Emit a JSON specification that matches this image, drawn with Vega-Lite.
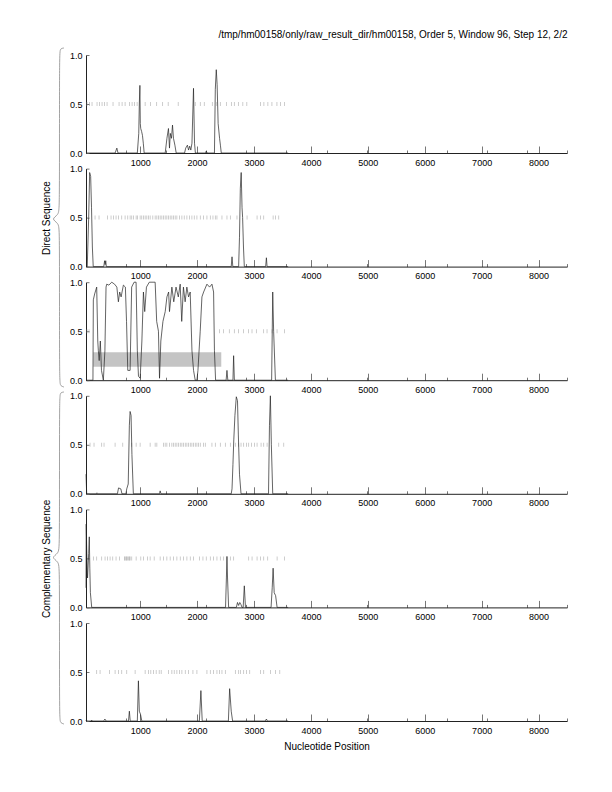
{
"$schema": "https://vega.github.io/schema/vega-lite/v6.json",
"padding": {"left": 36, "top": 30, "right": 5, "bottom": 5},
"title": {"text": "/tmp/hm00158/only/raw_result_dir/hm00158, Order 5, Window 96, Step 12, 2/2", "anchor": "end", "fontSize": 10, "fontWeight": "normal", "font": "Liberation Sans", "color": "#000", "offset": 6},
"config": {"view": {"stroke": null}, "font": "Liberation Sans", "axis": {"grid": false, "labelFont": "Liberation Sans", "titleFont": "Liberation Sans", "titleFontWeight": "normal", "labelColor": "#000", "titleColor": "#000"}},
"datasets": {
"brace": [
{"b":1,"i":0,"bx":64,"by":48},{"b":1,"i":1,"bx":60.5,"by":48.5},{"b":1,"i":2,"bx":59.5,"by":52},{"b":1,"i":3,"bx":59.5,"by":120},{"b":1,"i":4,"bx":59.5,"by":208},{"b":1,"i":5,"bx":58.5,"by":215},{"b":1,"i":6,"bx":51,"by":219},{"b":1,"i":7,"bx":58.5,"by":223},{"b":1,"i":8,"bx":59.5,"by":230},{"b":1,"i":9,"bx":59.5,"by":300},{"b":1,"i":10,"bx":59.5,"by":382},{"b":1,"i":11,"bx":60.5,"by":386},{"b":1,"i":12,"bx":64,"by":387},
{"b":2,"i":0,"bx":64,"by":392},{"b":2,"i":1,"bx":60.5,"by":392.5},{"b":2,"i":2,"bx":59.5,"by":396},{"b":2,"i":3,"bx":59.5,"by":470},{"b":2,"i":4,"bx":59.5,"by":546.5},{"b":2,"i":5,"bx":58.5,"by":553.5},{"b":2,"i":6,"bx":51,"by":557.5},{"b":2,"i":7,"bx":58.5,"by":561.5},{"b":2,"i":8,"bx":59.5,"by":568.5},{"b":2,"i":9,"bx":59.5,"by":640},{"b":2,"i":10,"bx":59.5,"by":719},{"b":2,"i":11,"bx":60.5,"by":723},{"b":2,"i":12,"bx":64,"by":724}
],
"rects": [{"p":3,"x":177,"x2":2425,"y":0.137,"y2":0.285}],
"curves": [
{"p":1,"x":48,"v":0},{"p":1,"x":560,"v":0},{"p":1,"x":590,"v":0.05},{"p":1,"x":610,"v":0},{"p":1,"x":950,"v":0},{"p":1,"x":975,"v":0.2},{"p":1,"x":985,"v":0.5},{"p":1,"x":995,"v":0.69},{"p":1,"x":1002,"v":0.3},{"p":1,"x":1010,"v":0.25},{"p":1,"x":1025,"v":0.22},{"p":1,"x":1040,"v":0.18},{"p":1,"x":1055,"v":0.1},{"p":1,"x":1070,"v":0},{"p":1,"x":1440,"v":0},{"p":1,"x":1470,"v":0.15},{"p":1,"x":1497,"v":0.25},{"p":1,"x":1515,"v":0.05},{"p":1,"x":1530,"v":0.2},{"p":1,"x":1550,"v":0.15},{"p":1,"x":1568,"v":0.285},{"p":1,"x":1585,"v":0.15},{"p":1,"x":1610,"v":0.08},{"p":1,"x":1633,"v":0},{"p":1,"x":1780,"v":0},{"p":1,"x":1800,"v":0.05},{"p":1,"x":1830,"v":0.08},{"p":1,"x":1850,"v":0.03},{"p":1,"x":1870,"v":0.07},{"p":1,"x":1890,"v":0.03},{"p":1,"x":1910,"v":0.1},{"p":1,"x":1937,"v":0.66},{"p":1,"x":1955,"v":0.1},{"p":1,"x":1970,"v":0},{"p":1,"x":2150,"v":0},{"p":1,"x":2161,"v":0.02},{"p":1,"x":2175,"v":0},{"p":1,"x":2305,"v":0},{"p":1,"x":2320,"v":0.65},{"p":1,"x":2337,"v":0.85},{"p":1,"x":2352,"v":0.7},{"p":1,"x":2370,"v":0.3},{"p":1,"x":2395,"v":0.15},{"p":1,"x":2410,"v":0.08},{"p":1,"x":2425,"v":0},{"p":1,"x":3600,"v":0},
{"p":2,"x":48,"v":0},{"p":2,"x":70,"v":0},{"p":2,"x":95,"v":0.5},{"p":2,"x":112,"v":0.96},{"p":2,"x":130,"v":0.92},{"p":2,"x":145,"v":0.6},{"p":2,"x":160,"v":0.2},{"p":2,"x":175,"v":0},{"p":2,"x":360,"v":0},{"p":2,"x":375,"v":0.06},{"p":2,"x":385,"v":0.02},{"p":2,"x":395,"v":0.06},{"p":2,"x":405,"v":0},{"p":2,"x":2600,"v":0},{"p":2,"x":2614,"v":0.1},{"p":2,"x":2628,"v":0},{"p":2,"x":2730,"v":0},{"p":2,"x":2745,"v":0.3},{"p":2,"x":2760,"v":0.8},{"p":2,"x":2775,"v":0.96},{"p":2,"x":2790,"v":0.6},{"p":2,"x":2800,"v":0.5},{"p":2,"x":2815,"v":0.2},{"p":2,"x":2830,"v":0},{"p":2,"x":3205,"v":0},{"p":2,"x":3218,"v":0.09},{"p":2,"x":3230,"v":0},{"p":2,"x":3600,"v":0},
{"p":3,"x":48,"v":0},{"p":3,"x":170,"v":0},{"p":3,"x":177,"v":0.82},{"p":3,"x":200,"v":0.88},{"p":3,"x":236,"v":0.95},{"p":3,"x":255,"v":0.4},{"p":3,"x":265,"v":0.3},{"p":3,"x":280,"v":0.2},{"p":3,"x":300,"v":0.4},{"p":3,"x":320,"v":0.1},{"p":3,"x":353,"v":0},{"p":3,"x":380,"v":0.3},{"p":3,"x":400,"v":0.95},{"p":3,"x":412,"v":0.98},{"p":3,"x":450,"v":0.97},{"p":3,"x":500,"v":1.0},{"p":3,"x":550,"v":0.98},{"p":3,"x":590,"v":0.95},{"p":3,"x":617,"v":0.8},{"p":3,"x":640,"v":0.9},{"p":3,"x":665,"v":0.85},{"p":3,"x":705,"v":0.97},{"p":3,"x":740,"v":0.95},{"p":3,"x":760,"v":0.6},{"p":3,"x":782,"v":0.1},{"p":3,"x":823,"v":0.1},{"p":3,"x":850,"v":0.95},{"p":3,"x":893,"v":1.0},{"p":3,"x":928,"v":1.0},{"p":3,"x":950,"v":0.3},{"p":3,"x":970,"v":0.04},{"p":3,"x":1000,"v":0.02},{"p":3,"x":1030,"v":0.4},{"p":3,"x":1057,"v":0.9},{"p":3,"x":1080,"v":0.7},{"p":3,"x":1110,"v":0.95},{"p":3,"x":1160,"v":1.0},{"p":3,"x":1263,"v":1.0},{"p":3,"x":1290,"v":0.6},{"p":3,"x":1321,"v":0.5},{"p":3,"x":1340,"v":0.02},{"p":3,"x":1363,"v":0.4},{"p":3,"x":1400,"v":0.6},{"p":3,"x":1440,"v":0.7},{"p":3,"x":1470,"v":0.85},{"p":3,"x":1500,"v":0.9},{"p":3,"x":1515,"v":0.7},{"p":3,"x":1557,"v":0.95},{"p":3,"x":1590,"v":0.8},{"p":3,"x":1630,"v":0.95},{"p":3,"x":1670,"v":0.85},{"p":3,"x":1703,"v":0.98},{"p":3,"x":1730,"v":0.6},{"p":3,"x":1760,"v":0.95},{"p":3,"x":1790,"v":0.8},{"p":3,"x":1820,"v":0.95},{"p":3,"x":1850,"v":0.85},{"p":3,"x":1879,"v":0.9},{"p":3,"x":1910,"v":0.3},{"p":3,"x":1938,"v":0.1},{"p":3,"x":1967,"v":0},{"p":3,"x":1997,"v":0},{"p":3,"x":2015,"v":0.1},{"p":3,"x":2055,"v":0.5},{"p":3,"x":2085,"v":0.85},{"p":3,"x":2115,"v":0.9},{"p":3,"x":2173,"v":0.98},{"p":3,"x":2220,"v":0.95},{"p":3,"x":2261,"v":0.98},{"p":3,"x":2290,"v":0.9},{"p":3,"x":2305,"v":0.3},{"p":3,"x":2325,"v":0},{"p":3,"x":2510,"v":0},{"p":3,"x":2525,"v":0.1},{"p":3,"x":2540,"v":0},{"p":3,"x":2630,"v":0},{"p":3,"x":2642,"v":0.25},{"p":3,"x":2655,"v":0},{"p":3,"x":3310,"v":0},{"p":3,"x":3329,"v":0.9},{"p":3,"x":3345,"v":0.5},{"p":3,"x":3376,"v":0},{"p":3,"x":3600,"v":0},
{"p":4,"x":48,"v":0.2},{"p":4,"x":60,"v":0},{"p":4,"x":230,"v":0},{"p":4,"x":240,"v":0.01},{"p":4,"x":250,"v":0},{"p":4,"x":600,"v":0},{"p":4,"x":620,"v":0.06},{"p":4,"x":660,"v":0.05},{"p":4,"x":680,"v":0},{"p":4,"x":750,"v":0},{"p":4,"x":764,"v":0.05},{"p":4,"x":790,"v":0.1},{"p":4,"x":810,"v":0.7},{"p":4,"x":823,"v":0.84},{"p":4,"x":840,"v":0.8},{"p":4,"x":855,"v":0.4},{"p":4,"x":880,"v":0},{"p":4,"x":1340,"v":0},{"p":4,"x":1351,"v":0.03},{"p":4,"x":1365,"v":0},{"p":4,"x":2600,"v":0},{"p":4,"x":2614,"v":0.05},{"p":4,"x":2630,"v":0.3},{"p":4,"x":2645,"v":0.55},{"p":4,"x":2665,"v":0.8},{"p":4,"x":2689,"v":0.99},{"p":4,"x":2710,"v":0.95},{"p":4,"x":2725,"v":0.6},{"p":4,"x":2745,"v":0.2},{"p":4,"x":2772,"v":0},{"p":4,"x":3255,"v":0},{"p":4,"x":3272,"v":0.7},{"p":4,"x":3288,"v":1.0},{"p":4,"x":3305,"v":0.5},{"p":4,"x":3329,"v":0},{"p":4,"x":3600,"v":0},
{"p":5,"x":48,"v":0.2},{"p":5,"x":52,"v":0.85},{"p":5,"x":60,"v":0.6},{"p":5,"x":75,"v":0.3},{"p":5,"x":95,"v":0.55},{"p":5,"x":106,"v":0.72},{"p":5,"x":115,"v":0.4},{"p":5,"x":125,"v":0.15},{"p":5,"x":148,"v":0},{"p":5,"x":2500,"v":0},{"p":5,"x":2515,"v":0.3},{"p":5,"x":2525,"v":0.52},{"p":5,"x":2535,"v":0.3},{"p":5,"x":2554,"v":0},{"p":5,"x":2690,"v":0},{"p":5,"x":2710,"v":0.05},{"p":5,"x":2730,"v":0.02},{"p":5,"x":2750,"v":0.05},{"p":5,"x":2770,"v":0.03},{"p":5,"x":2790,"v":0},{"p":5,"x":2810,"v":0},{"p":5,"x":2830,"v":0.22},{"p":5,"x":2850,"v":0},{"p":5,"x":3300,"v":0},{"p":5,"x":3320,"v":0.2},{"p":5,"x":3336,"v":0.4},{"p":5,"x":3355,"v":0.15},{"p":5,"x":3380,"v":0.12},{"p":5,"x":3406,"v":0},{"p":5,"x":3600,"v":0},
{"p":6,"x":48,"v":0},{"p":6,"x":55,"v":0.01},{"p":6,"x":70,"v":0},{"p":6,"x":140,"v":0},{"p":6,"x":148,"v":0.01},{"p":6,"x":160,"v":0},{"p":6,"x":360,"v":0},{"p":6,"x":380,"v":0.02},{"p":6,"x":400,"v":0},{"p":6,"x":795,"v":0},{"p":6,"x":810,"v":0.1},{"p":6,"x":825,"v":0},{"p":6,"x":950,"v":0},{"p":6,"x":969,"v":0.41},{"p":6,"x":985,"v":0.1},{"p":6,"x":1005,"v":0.07},{"p":6,"x":1029,"v":0},{"p":6,"x":2040,"v":0},{"p":6,"x":2067,"v":0.31},{"p":6,"x":2090,"v":0},{"p":6,"x":2550,"v":0},{"p":6,"x":2572,"v":0.33},{"p":6,"x":2600,"v":0.1},{"p":6,"x":2624,"v":0},{"p":6,"x":3200,"v":0},{"p":6,"x":3218,"v":0.02},{"p":6,"x":3235,"v":0},{"p":6,"x":3600,"v":0}
],
"ticks": [
{"p":1,"x":66},{"p":1,"x":110},{"p":1,"x":154},{"p":1,"x":242},{"p":1,"x":286},{"p":1,"x":330},{"p":1,"x":374},{"p":1,"x":418},{"p":1,"x":523},{"p":1,"x":629},{"p":1,"x":682},{"p":1,"x":735},{"p":1,"x":814},{"p":1,"x":858},{"p":1,"x":902},{"p":1,"x":946},{"p":1,"x":1087},{"p":1,"x":1184},{"p":1,"x":1290},{"p":1,"x":1395},{"p":1,"x":1492},{"p":1,"x":1668},{"p":1,"x":1968},{"p":1,"x":2056},{"p":1,"x":2126},{"p":1,"x":2267},{"p":1,"x":2346},{"p":1,"x":2408},{"p":1,"x":2514},{"p":1,"x":2602},{"p":1,"x":2654},{"p":1,"x":2725},{"p":1,"x":2804},{"p":1,"x":2874},{"p":1,"x":3112},{"p":1,"x":3174},{"p":1,"x":3244},{"p":1,"x":3315},{"p":1,"x":3403},{"p":1,"x":3464},{"p":1,"x":3535},
{"p":2,"x":207},{"p":2,"x":277},{"p":2,"x":424},{"p":2,"x":488},{"p":2,"x":530},{"p":2,"x":576},{"p":2,"x":618},{"p":2,"x":676},{"p":2,"x":735},{"p":2,"x":782},{"p":2,"x":823},{"p":2,"x":852},{"p":2,"x":882},{"p":2,"x":929},{"p":2,"x":952},{"p":2,"x":999},{"p":2,"x":1028},{"p":2,"x":1058},{"p":2,"x":1087},{"p":2,"x":1117},{"p":2,"x":1146},{"p":2,"x":1175},{"p":2,"x":1222},{"p":2,"x":1263},{"p":2,"x":1293},{"p":2,"x":1322},{"p":2,"x":1351},{"p":2,"x":1381},{"p":2,"x":1410},{"p":2,"x":1439},{"p":2,"x":1469},{"p":2,"x":1498},{"p":2,"x":1527},{"p":2,"x":1557},{"p":2,"x":1586},{"p":2,"x":1615},{"p":2,"x":1645},{"p":2,"x":1692},{"p":2,"x":1733},{"p":2,"x":1774},{"p":2,"x":1821},{"p":2,"x":1868},{"p":2,"x":1909},{"p":2,"x":1950},{"p":2,"x":1997},{"p":2,"x":2056},{"p":2,"x":2114},{"p":2,"x":2173},{"p":2,"x":2232},{"p":2,"x":2279},{"p":2,"x":2320},{"p":2,"x":2349},{"p":2,"x":2437},{"p":2,"x":2525},{"p":2,"x":2584},{"p":2,"x":2701},{"p":2,"x":2878},{"p":2,"x":3054},{"p":2,"x":3112},{"p":2,"x":3171},{"p":2,"x":3336},{"p":2,"x":3376},{"p":2,"x":3435},
{"p":3,"x":66},{"p":3,"x":101},{"p":3,"x":2395},{"p":3,"x":2466},{"p":3,"x":2566},{"p":3,"x":2654},{"p":3,"x":2730},{"p":3,"x":2818},{"p":3,"x":2906},{"p":3,"x":2965},{"p":3,"x":3041},{"p":3,"x":3170},{"p":3,"x":3229},{"p":3,"x":3317},{"p":3,"x":3405},{"p":3,"x":3535},
{"p":4,"x":119},{"p":4,"x":189},{"p":4,"x":324},{"p":4,"x":365},{"p":4,"x":559},{"p":4,"x":694},{"p":4,"x":852},{"p":4,"x":929},{"p":4,"x":999},{"p":4,"x":1175},{"p":4,"x":1263},{"p":4,"x":1293},{"p":4,"x":1410},{"p":4,"x":1439},{"p":4,"x":1469},{"p":4,"x":1516},{"p":4,"x":1557},{"p":4,"x":1586},{"p":4,"x":1615},{"p":4,"x":1645},{"p":4,"x":1674},{"p":4,"x":1704},{"p":4,"x":1733},{"p":4,"x":1762},{"p":4,"x":1792},{"p":4,"x":1821},{"p":4,"x":1850},{"p":4,"x":1880},{"p":4,"x":1909},{"p":4,"x":1938},{"p":4,"x":1968},{"p":4,"x":1997},{"p":4,"x":2026},{"p":4,"x":2056},{"p":4,"x":2114},{"p":4,"x":2144},{"p":4,"x":2261},{"p":4,"x":2320},{"p":4,"x":2408},{"p":4,"x":2496},{"p":4,"x":2584},{"p":4,"x":2672},{"p":4,"x":2731},{"p":4,"x":2772},{"p":4,"x":2819},{"p":4,"x":2866},{"p":4,"x":2907},{"p":4,"x":2954},{"p":4,"x":3007},{"p":4,"x":3054},{"p":4,"x":3124},{"p":4,"x":3171},{"p":4,"x":3230},{"p":4,"x":3435},{"p":4,"x":3523},
{"p":5,"x":177},{"p":5,"x":236},{"p":5,"x":324},{"p":5,"x":383},{"p":5,"x":424},{"p":5,"x":471},{"p":5,"x":518},{"p":5,"x":576},{"p":5,"x":635},{"p":5,"x":723},{"p":5,"x":735},{"p":5,"x":753},{"p":5,"x":764},{"p":5,"x":782},{"p":5,"x":800},{"p":5,"x":811},{"p":5,"x":823},{"p":5,"x":852},{"p":5,"x":929},{"p":5,"x":1011},{"p":5,"x":1058},{"p":5,"x":1128},{"p":5,"x":1175},{"p":5,"x":1246},{"p":5,"x":1351},{"p":5,"x":1410},{"p":5,"x":1469},{"p":5,"x":1527},{"p":5,"x":1586},{"p":5,"x":1645},{"p":5,"x":1704},{"p":5,"x":1762},{"p":5,"x":1821},{"p":5,"x":1880},{"p":5,"x":1938},{"p":5,"x":2044},{"p":5,"x":2103},{"p":5,"x":2161},{"p":5,"x":2232},{"p":5,"x":2291},{"p":5,"x":2349},{"p":5,"x":2408},{"p":5,"x":2467},{"p":5,"x":2584},{"p":5,"x":2643},{"p":5,"x":2907},{"p":5,"x":2966},{"p":5,"x":3054},{"p":5,"x":3112},{"p":5,"x":3171},{"p":5,"x":3241},{"p":5,"x":3406},{"p":5,"x":3535},
{"p":6,"x":236},{"p":6,"x":295},{"p":6,"x":459},{"p":6,"x":559},{"p":6,"x":618},{"p":6,"x":676},{"p":6,"x":764},{"p":6,"x":911},{"p":6,"x":1087},{"p":6,"x":1146},{"p":6,"x":1187},{"p":6,"x":1234},{"p":6,"x":1281},{"p":6,"x":1334},{"p":6,"x":1369},{"p":6,"x":1498},{"p":6,"x":1557},{"p":6,"x":1598},{"p":6,"x":1645},{"p":6,"x":1692},{"p":6,"x":1733},{"p":6,"x":1792},{"p":6,"x":1850},{"p":6,"x":1927},{"p":6,"x":1997},{"p":6,"x":2173},{"p":6,"x":2232},{"p":6,"x":2291},{"p":6,"x":2349},{"p":6,"x":2396},{"p":6,"x":2437},{"p":6,"x":2496},{"p":6,"x":2672},{"p":6,"x":2731},{"p":6,"x":2760},{"p":6,"x":2819},{"p":6,"x":2866},{"p":6,"x":2925},{"p":6,"x":3112},{"p":6,"x":3171},{"p":6,"x":3288},{"p":6,"x":3376},{"p":6,"x":3453}
]
},
"bounds": "flush",
"spacing": 22,
"hconcat": [
{"width": 28, "height": 666, "data": {"name": "brace"},
 "mark": {"type": "line", "interpolate": "basis", "color": "#8c8c8c", "strokeWidth": 0.8},
 "encoding": {"x": {"field": "bx", "type": "quantitative", "scale": {"domain": [36, 64], "nice": false, "zero": false}, "axis": null},
   "y": {"field": "by", "type": "quantitative", "scale": {"domain": [55, 721], "reverse": true, "nice": false, "zero": false}, "axis": null},
   "detail": {"field": "b"}, "order": {"field": "i"}}},
{"bounds": "flush", "spacing": 15.6, "vconcat": [
{"width": 481, "height": 98, "resolve": {"axis": {"x": "independent"}}, "layer": [
 {"data": {"name": "ticks"}, "transform": [{"filter": "datum.p==1"}], "mark": {"type": "tick", "orient": "vertical", "size": 4, "thickness": 0.7, "color": "#9a9a9a"},
  "encoding": {"x": {"field": "x", "type": "quantitative", "scale": {"domain": [48, 8500], "nice": false, "zero": false}, "axis": {"orient": "bottom", "values": [48,752,1457,2161,2865,3569,4274,4978,5682,6387,7091,7795,8500], "tickSize": -3, "labels": false, "domain": false, "title": null, "tickColor": "#777"}},
   "y": {"datum": 0.5, "type": "quantitative", "scale": {"domain": [0, 1], "nice": false}, "axis": {"values": [0, 0.5, 1], "format": ".1f", "tickSize": -3, "labelPadding": 7, "labelFontSize": 9, "domainColor": "#222", "tickColor": "#777", "title": null}}}},
 {"data": {"name": "curves"}, "transform": [{"filter": "datum.p==1"}], "mark": {"type": "line", "color": "#222", "strokeWidth": 0.7},
  "encoding": {"x": {"field": "x", "type": "quantitative", "axis": {"orient": "bottom", "values": [1000,2000,3000,4000,5000,6000,7000,8000], "format": "d", "tickSize": -7, "labelPadding": 12, "labelFontSize": 9, "labelFlush": false, "domainColor": "#222", "tickColor": "#777", "title": null}},
   "y": {"field": "v", "type": "quantitative"}}}
]},
{"width": 481, "height": 98, "resolve": {"axis": {"x": "independent"}}, "layer": [
 {"data": {"name": "ticks"}, "transform": [{"filter": "datum.p==2"}], "mark": {"type": "tick", "orient": "vertical", "size": 4, "thickness": 0.7, "color": "#9a9a9a"},
  "encoding": {"x": {"field": "x", "type": "quantitative", "scale": {"domain": [48, 8500], "nice": false, "zero": false}, "axis": {"orient": "bottom", "values": [48,752,1457,2161,2865,3569,4274,4978,5682,6387,7091,7795,8500], "tickSize": -3, "labels": false, "domain": false, "title": null, "tickColor": "#777"}},
   "y": {"datum": 0.5, "type": "quantitative", "scale": {"domain": [0, 1], "nice": false}, "axis": {"values": [0, 0.5, 1], "format": ".1f", "tickSize": -3, "labelPadding": 7, "labelFontSize": 9, "domainColor": "#222", "tickColor": "#777", "title": "Direct Sequence", "titleFontSize": 10, "titlePadding": 18}}}},
 {"data": {"name": "curves"}, "transform": [{"filter": "datum.p==2"}], "mark": {"type": "line", "color": "#222", "strokeWidth": 0.7},
  "encoding": {"x": {"field": "x", "type": "quantitative", "axis": {"orient": "bottom", "values": [1000,2000,3000,4000,5000,6000,7000,8000], "format": "d", "tickSize": -7, "labelPadding": 12, "labelFontSize": 9, "labelFlush": false, "domainColor": "#222", "tickColor": "#777", "title": null}},
   "y": {"field": "v", "type": "quantitative"}}}
]},
{"width": 481, "height": 98, "resolve": {"axis": {"x": "independent"}}, "layer": [
 {"data": {"name": "rects"}, "transform": [{"filter": "datum.p==3"}], "mark": {"type": "rect", "color": "#c4c4c4"},
  "encoding": {"x": {"field": "x", "type": "quantitative", "scale": {"domain": [48, 8500], "nice": false, "zero": false}, "axis": null}, "x2": {"field": "x2"},
   "y": {"field": "y", "type": "quantitative", "scale": {"domain": [0, 1], "nice": false}}, "y2": {"field": "y2"}}},
 {"data": {"name": "ticks"}, "transform": [{"filter": "datum.p==3"}], "mark": {"type": "tick", "orient": "vertical", "size": 4, "thickness": 0.7, "color": "#9a9a9a"},
  "encoding": {"x": {"field": "x", "type": "quantitative", "axis": {"orient": "bottom", "values": [48,752,1457,2161,2865,3569,4274,4978,5682,6387,7091,7795,8500], "tickSize": -3, "labels": false, "domain": false, "title": null, "tickColor": "#777"}},
   "y": {"datum": 0.5, "type": "quantitative", "axis": {"values": [0, 0.5, 1], "format": ".1f", "tickSize": -3, "labelPadding": 7, "labelFontSize": 9, "domainColor": "#222", "tickColor": "#777", "title": null}}}},
 {"data": {"name": "curves"}, "transform": [{"filter": "datum.p==3"}], "mark": {"type": "line", "color": "#222", "strokeWidth": 0.7},
  "encoding": {"x": {"field": "x", "type": "quantitative", "axis": {"orient": "bottom", "values": [1000,2000,3000,4000,5000,6000,7000,8000], "format": "d", "tickSize": -7, "labelPadding": 12, "labelFontSize": 9, "labelFlush": false, "domainColor": "#222", "tickColor": "#777", "title": null}},
   "y": {"field": "v", "type": "quantitative"}}}
]},
{"width": 481, "height": 98, "resolve": {"axis": {"x": "independent"}}, "layer": [
 {"data": {"name": "ticks"}, "transform": [{"filter": "datum.p==4"}], "mark": {"type": "tick", "orient": "vertical", "size": 4, "thickness": 0.7, "color": "#9a9a9a"},
  "encoding": {"x": {"field": "x", "type": "quantitative", "scale": {"domain": [48, 8500], "nice": false, "zero": false}, "axis": {"orient": "bottom", "values": [48,752,1457,2161,2865,3569,4274,4978,5682,6387,7091,7795,8500], "tickSize": -3, "labels": false, "domain": false, "title": null, "tickColor": "#777"}},
   "y": {"datum": 0.5, "type": "quantitative", "scale": {"domain": [0, 1], "nice": false}, "axis": {"values": [0, 0.5, 1], "format": ".1f", "tickSize": -3, "labelPadding": 7, "labelFontSize": 9, "domainColor": "#222", "tickColor": "#777", "title": null}}}},
 {"data": {"name": "curves"}, "transform": [{"filter": "datum.p==4"}], "mark": {"type": "line", "color": "#222", "strokeWidth": 0.7},
  "encoding": {"x": {"field": "x", "type": "quantitative", "axis": {"orient": "bottom", "values": [1000,2000,3000,4000,5000,6000,7000,8000], "format": "d", "tickSize": -7, "labelPadding": 12, "labelFontSize": 9, "labelFlush": false, "domainColor": "#222", "tickColor": "#777", "title": null}},
   "y": {"field": "v", "type": "quantitative"}}}
]},
{"width": 481, "height": 98, "resolve": {"axis": {"x": "independent"}}, "layer": [
 {"data": {"name": "ticks"}, "transform": [{"filter": "datum.p==5"}], "mark": {"type": "tick", "orient": "vertical", "size": 4, "thickness": 0.7, "color": "#9a9a9a"},
  "encoding": {"x": {"field": "x", "type": "quantitative", "scale": {"domain": [48, 8500], "nice": false, "zero": false}, "axis": {"orient": "bottom", "values": [48,752,1457,2161,2865,3569,4274,4978,5682,6387,7091,7795,8500], "tickSize": -3, "labels": false, "domain": false, "title": null, "tickColor": "#777"}},
   "y": {"datum": 0.5, "type": "quantitative", "scale": {"domain": [0, 1], "nice": false}, "axis": {"values": [0, 0.5, 1], "format": ".1f", "tickSize": -3, "labelPadding": 7, "labelFontSize": 9, "domainColor": "#222", "tickColor": "#777", "title": "Complementary Sequence", "titleFontSize": 10, "titlePadding": 18}}}},
 {"data": {"name": "curves"}, "transform": [{"filter": "datum.p==5"}], "mark": {"type": "line", "color": "#222", "strokeWidth": 0.7},
  "encoding": {"x": {"field": "x", "type": "quantitative", "axis": {"orient": "bottom", "values": [1000,2000,3000,4000,5000,6000,7000,8000], "format": "d", "tickSize": -7, "labelPadding": 12, "labelFontSize": 9, "labelFlush": false, "domainColor": "#222", "tickColor": "#777", "title": null}},
   "y": {"field": "v", "type": "quantitative"}}}
]},
{"width": 481, "height": 98, "resolve": {"axis": {"x": "independent"}}, "layer": [
 {"data": {"name": "ticks"}, "transform": [{"filter": "datum.p==6"}], "mark": {"type": "tick", "orient": "vertical", "size": 4, "thickness": 0.7, "color": "#9a9a9a"},
  "encoding": {"x": {"field": "x", "type": "quantitative", "scale": {"domain": [48, 8500], "nice": false, "zero": false}, "axis": {"orient": "bottom", "values": [48,752,1457,2161,2865,3569,4274,4978,5682,6387,7091,7795,8500], "tickSize": -3, "labels": false, "domain": false, "title": null, "tickColor": "#777"}},
   "y": {"datum": 0.5, "type": "quantitative", "scale": {"domain": [0, 1], "nice": false}, "axis": {"values": [0, 0.5, 1], "format": ".1f", "tickSize": -3, "labelPadding": 7, "labelFontSize": 9, "domainColor": "#222", "tickColor": "#777", "title": null}}}},
 {"data": {"name": "curves"}, "transform": [{"filter": "datum.p==6"}], "mark": {"type": "line", "color": "#222", "strokeWidth": 0.7},
  "encoding": {"x": {"field": "x", "type": "quantitative", "axis": {"orient": "bottom", "values": [1000,2000,3000,4000,5000,6000,7000,8000], "format": "d", "tickSize": -7, "labelPadding": 12, "labelFontSize": 9, "labelFlush": false, "domainColor": "#222", "tickColor": "#777", "title": "Nucleotide Position", "titleFontSize": 10, "titlePadding": 6}},
   "y": {"field": "v", "type": "quantitative"}}}
]}
]}
]
}
